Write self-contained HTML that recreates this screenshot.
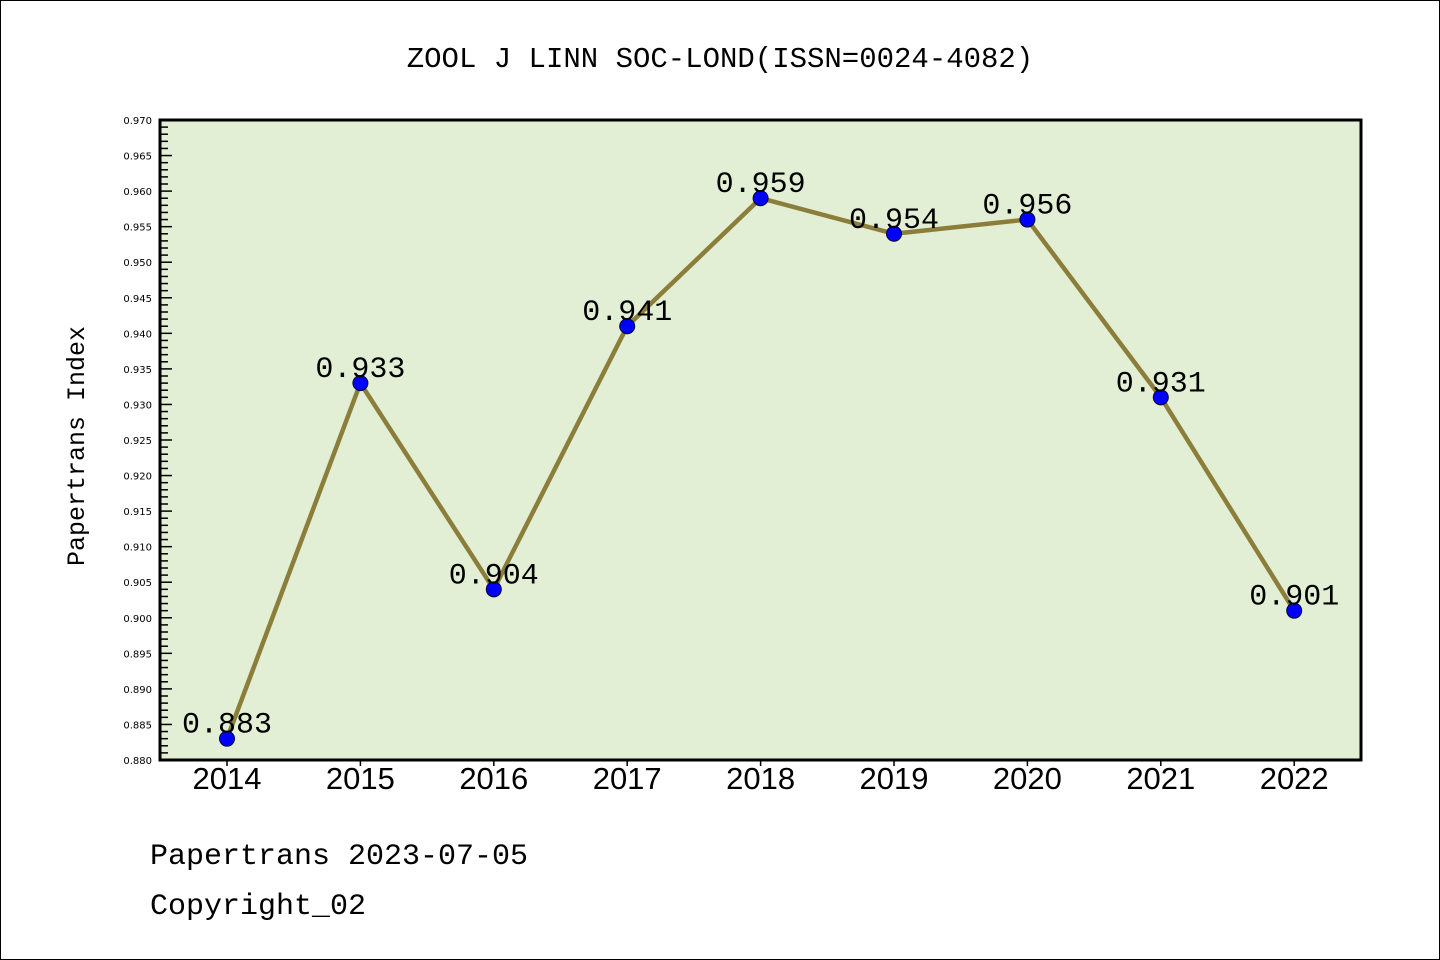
<!DOCTYPE html>
<html><head><meta charset="utf-8"><style>
body{margin:0;background:#fff}
svg{display:block}
</style></head><body>
<svg width="1440" height="960" xmlns="http://www.w3.org/2000/svg">
<rect x="0.5" y="0.5" width="1439" height="959" fill="#fff" stroke="#000"/>
<text x="720" y="67" text-anchor="middle" font-family="Liberation Mono, monospace" font-size="29" fill="#000">ZOOL J LINN SOC-LOND(ISSN=0024-4082)</text>
<rect x="160" y="120" width="1201" height="640" fill="#e2efd5" stroke="#000" stroke-width="3"/>
<g id="yaxis"></g><g id="xaxis"></g><g id="series"></g>
<text transform="translate(84,446) rotate(-90)" text-anchor="middle" font-family="Liberation Mono, monospace" font-size="25" fill="#000">Papertrans Index</text>
<text x="150" y="864" font-family="Liberation Mono, monospace" font-size="30" fill="#000">Papertrans 2023-07-05</text>
<text x="150" y="914" font-family="Liberation Mono, monospace" font-size="30" fill="#000">Copyright_02</text>
</svg>
<script>
const years=["2014","2015","2016","2017","2018","2019","2020","2021","2022"];
const values=[0.883,0.933,0.904,0.941,0.959,0.954,0.956,0.931,0.901];
const yMin=0.880,yMax=0.970;
const NS="http://www.w3.org/2000/svg";
const L=160,R=1361,T=120,B=760;
const x0=227,dx=133.4;
function xs(i){return x0+i*dx;}
function ys(v){return B-(v-yMin)/(yMax-yMin)*(B-T);}
function mk(t,a,p){const e=document.createElementNS(NS,t);for(const k in a)e.setAttribute(k,a[k]);p.appendChild(e);return e;}
const ya=document.getElementById('yaxis');
for(let k=0;k<=90;k++){
  const v=yMin+k*0.001,y=ys(v),maj=k%5===0;
  const t=mk('line',{x1:L,x2:L+(maj?12:8),y1:y,y2:y,stroke:'#000','stroke-width':1.5},ya);
  
  
  if(maj){
    const lb=mk('text',{x:152,y:y+4,'text-anchor':'end','font-family':'DejaVu Sans, sans-serif','font-size':10,fill:'#000'},ya);
    lb.textContent=v.toFixed(3);
    
    
  }
}
const xa=document.getElementById('xaxis');
years.forEach((yr,i)=>{
  const x=xs(i);
  const t=mk('line',{x1:x,x2:x,y1:B,y2:B+6,stroke:'#000','stroke-width':1.5},xa);
  
  
  const lb=mk('text',{x:x,y:789,'text-anchor':'middle','font-family':'Liberation Sans, sans-serif','font-size':31,fill:'#000'},xa);
  lb.textContent=yr;
  
  
});
const s=document.getElementById('series');
const pl=mk('polyline',{points:values.map((v,i)=>xs(i)+','+ys(v)).join(' '),fill:'none',stroke:'#8b7d3a','stroke-width':4.5,'stroke-linejoin':'round'},s);


values.forEach((v,i)=>{
  const c=mk('circle',{cx:xs(i),cy:ys(v),r:7.5,fill:'#0000ff',stroke:'#000033','stroke-width':1},s);
  
  
  const lb=mk('text',{x:xs(i),y:ys(v)-6,'text-anchor':'middle','font-family':'Liberation Mono, monospace','font-size':30,fill:'#000'},s);
  lb.textContent=v.toFixed(3);
  
  
});
</script>
</body></html>
